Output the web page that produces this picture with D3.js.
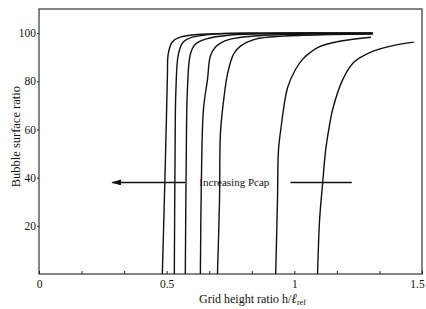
<!DOCTYPE html>
<html>
<head>
<meta charset="utf-8">
<script src="https://cdn.jsdelivr.net/npm/d3@7"></script>
<style>
    body { margin: 0; background: #fff; }
    svg { display: block; }
    text { font-family: "Liberation Serif", "DejaVu Serif", serif; fill: #111; }
</style>
</head>
<body>
<script>

// Grid height ratio (x) for each curve
var curveH = [
    [0.483, 0.491, 0.499, 0.503, 0.506, 0.522, 0.554, 0.652, 0.868, 1.307],
    [0.530, 0.533, 0.536, 0.546, 0.565, 0.601, 0.691, 0.868, 1.307],
    [0.573, 0.577, 0.581, 0.593, 0.612, 0.652, 0.750, 0.946, 1.307],
    [0.632, 0.636, 0.644, 0.660, 0.671, 0.691, 0.718, 0.770, 0.907, 1.307],
    [0.699, 0.707, 0.711, 0.726, 0.738, 0.762, 0.789, 0.848, 0.954, 1.143, 1.307],
    [0.927, 0.934, 0.938, 0.946, 0.974, 1.005, 1.033, 1.064, 1.095, 1.182, 1.300],
    [1.091, 1.099, 1.111, 1.123, 1.135, 1.150, 1.190, 1.233, 1.300, 1.378, 1.468]
];

// Bubble surface ratio (y) for each curve
var curveR = [
    [0, 30.8, 64.2, 82.9, 91.3, 96.3, 98.3, 99.6, 100, 100],
    [0, 51.7, 75.8, 91.3, 96.3, 98.3, 99.6, 100, 100],
    [0, 51.7, 75.8, 91.3, 95.4, 97.5, 99.2, 99.8, 100],
    [0, 39.2, 68.3, 80.8, 90.4, 94.2, 96.3, 97.9, 99.2, 99.8],
    [0, 30.8, 59.2, 74.6, 82.9, 91.3, 94.6, 97.5, 98.75, 99.4, 99.6],
    [0, 30.8, 51.7, 59.2, 77.5, 85, 89.2, 92.1, 94.2, 96.7, 98.3],
    [0, 22.5, 37.9, 51.7, 60, 68.3, 80.8, 87.9, 92.1, 94.6, 96.25]
];

// Tick values and labels
var xTickValues = [0, 0.5, 1, 1.5],
    xTickLabels = ["0", "0.5", "1", "1.5"],
    xMinorTicks = [0, 1/6, 2/6, 0.5, 4/6, 5/6, 1, 7/6, 8/6, 1.5],
    yTickValues = [20, 40, 60, 80, 100],
    yTickLabels = ["20", "40", "60", "80", "100"];

// Annotation: arrow + label, in data units
var arrowY = 38,
    arrowFrom = 0.573,
    arrowTo = 0.287,
    tailFrom = 0.985,
    tailTo = 1.225,
    annotationX = 0.628,
    annotationText = "Increasing Pcap";

// Margins
var margin = { top: 9, right: 4, bottom: 35, left: 39 },
    width = 426 - margin.left - margin.right,
    height = 309 - margin.top - margin.bottom;

var svg = d3.select("body").
            append("svg").
            attr("width", width + margin.left + margin.right).
            attr("height", height + margin.top + margin.bottom);

var g = svg.append("g").
            attr("transform", "translate(" + margin.left + "," + margin.top + ")");

// Scales
var x = d3.scaleLinear().domain([0, 1.5]).range([0, width]);
var y = d3.scaleLinear().domain([0, 110]).range([height, 0]);

// Frame
g.append("rect").
    attr("width", width).
    attr("height", height).
    attr("fill", "none").
    attr("stroke", "#222").
    attr("stroke-width", 1.1);

// Bottom axis: small inward ticks, labels only at 0, 0.5, 1, 1.5
g.append("g").
    attr("transform", "translate(0," + height + ")").
    call(d3.axisBottom(x).tickValues(xMinorTicks).tickSize(-3).tickFormat(""));

var xLabels = g.append("g").
    attr("transform", "translate(0," + height + ")").
    call(d3.axisBottom(x).tickValues(xTickValues).tickSize(0).tickPadding(6).
        tickFormat(function (d, i) { return xTickLabels[i]; }));

// last label sits right on the page edge, nudge it in
xLabels.selectAll(".tick text").
    filter(function (d) { return d === 1.5; }).
    attr("dx", -5);

// Left axis
g.append("g").
    call(d3.axisLeft(y).tickValues(yTickValues).tickSize(2).tickPadding(1).
        tickFormat(function (d, i) { return yTickLabels[i]; }));

g.selectAll(".domain").remove();
g.selectAll(".tick line").attr("stroke", "#222");
g.selectAll(".tick text").
    style("font-family", "'Liberation Serif', serif").
    style("font-size", "11.5px").
    attr("fill", "#111");

// Curves
var line = d3.line().
    x(function (d) { return x(d[0]); }).
    y(function (d) { return y(d[1]); }).
    curve(d3.curveCatmullRom.alpha(0.5));

var curves = curveH.map(function (hs, i) {
    return hs.map(function (h, j) { return [h, curveR[i][j]]; });
});

g.selectAll("path.curve").
    data(curves).
    enter().append("path").
    attr("class", "curve").
    attr("d", line).
    attr("fill", "none").
    attr("stroke", "#111").
    attr("stroke-width", 1.4);

// Arrow
svg.append("defs").append("marker").
    attr("id", "head").
    attr("viewBox", "0 0 10 6").
    attr("refX", 9).
    attr("refY", 3).
    attr("markerWidth", 10).
    attr("markerHeight", 6).
    attr("markerUnits", "userSpaceOnUse").
    attr("orient", "auto").
    append("path").
    attr("d", "M0,0 L10,3 L0,6 Z").
    attr("fill", "#111");

g.append("line").
    attr("x1", x(arrowFrom)).
    attr("y1", y(arrowY)).
    attr("x2", x(arrowTo)).
    attr("y2", y(arrowY)).
    attr("stroke", "#111").
    attr("stroke-width", 1.4).
    attr("marker-end", "url(#head)");

g.append("line").
    attr("x1", x(tailFrom)).
    attr("y1", y(arrowY)).
    attr("x2", x(tailTo)).
    attr("y2", y(arrowY)).
    attr("stroke", "#111").
    attr("stroke-width", 1.4);

g.append("text").
    attr("x", x(annotationX)).
    attr("y", y(arrowY)).
    attr("dy", "0.35em").
    style("font-size", "11px").
    text(annotationText);

// Axis titles
svg.append("text").
    attr("transform", "translate(20," + (margin.top + y(57)) + ") rotate(-90)").
    attr("text-anchor", "middle").
    style("font-size", "12.5px").
    text("Bubble surface ratio");

var xTitle = svg.append("text").
    attr("x", 199).
    attr("y", 303).
    style("font-size", "12px");
xTitle.append("tspan").text("Grid height ratio h/");
xTitle.append("tspan").style("font-style", "italic").style("font-size", "13.5px").text("ℓ");
xTitle.append("tspan").attr("dy", 2).style("font-size", "8px").text("ref");

</script>
</body>
</html>
